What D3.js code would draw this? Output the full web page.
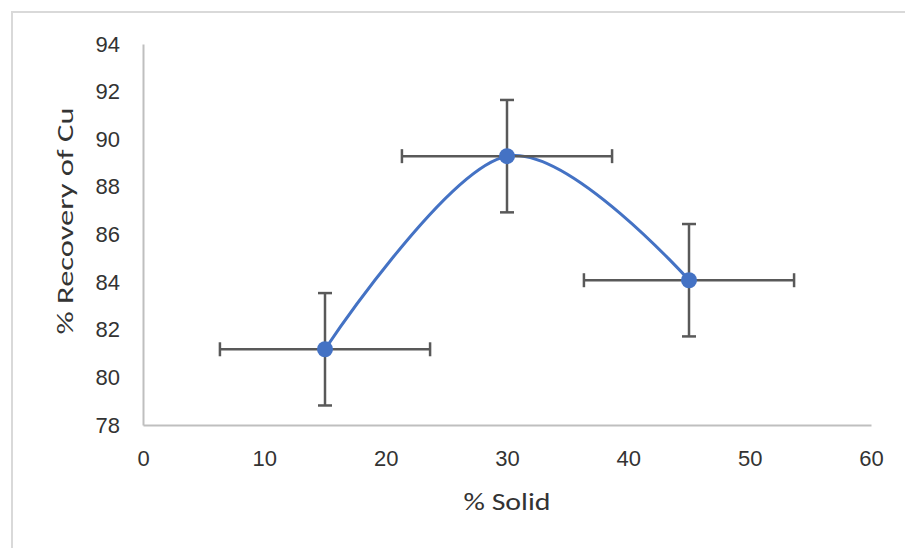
<!DOCTYPE html>
<html>
<head>
<meta charset="utf-8">
<script src="https://cdn.jsdelivr.net/npm/d3@7.9.0/dist/d3.min.js"></script>
<style>
  html, body { margin: 0; padding: 0; background: #fff; }
  svg { display: block; font-family: Calibri, Carlito, Lato, "Open Sans", sans-serif; }
</style>
</head>
<body>
<svg id="chart" width="905" height="548"></svg>
<script>
/* --- Data --- */
const solid = [15, 30, 45];             // % Solid
const recovery = [81.18, 89.29, 84.08]; // % Recovery of Cu
const xErr = [8.66, 8.66, 8.66];
const yErr = [2.36, 2.36, 2.36];
const xTicks = [0, 10, 20, 30, 40, 50, 60];
const yTicks = [78, 80, 82, 84, 86, 88, 90, 92, 94];

/* --- Layout --- */
const svg = d3.select('#chart');
const plot = { left: 143, right: 871, top: 44, bottom: 425 };

const x = d3.scaleLinear().domain([0, 60]).range([plot.left, plot.right]);
const y = d3.scaleLinear().domain([78, 94]).range([plot.bottom, plot.top]);

// outer frame (runs off the right/bottom edge like the source image)
svg.append('rect')
  .attr('x', 12).attr('y', 12)
  .attr('width', 905).attr('height', 548)
  .attr('fill', 'none')
  .attr('stroke', '#d9d9d9')
  .attr('stroke-width', 2);

/* --- Axes --- */
const axisColor = '#bfbfbf';
const labelColor = '#333333';

const xAxis = svg.append('g')
  .attr('transform', `translate(0,${plot.bottom})`)
  .call(d3.axisBottom(x).tickValues(xTicks).tickSize(0).tickPadding(25));
xAxis.select('.domain').attr('stroke', axisColor).attr('stroke-width', 2);
xAxis.selectAll('text').attr('fill', labelColor).style('font-size', '22px');

const yAxis = svg.append('g')
  .attr('transform', `translate(${plot.left},0)`)
  .call(d3.axisLeft(y).tickValues(yTicks).tickSize(0).tickPadding(23));
yAxis.select('.domain').attr('stroke', axisColor).attr('stroke-width', 2);
yAxis.selectAll('text').attr('fill', labelColor).style('font-size', '22px');

// axis titles: the source stretches them, so scale glyphs to the same length
const xTitle = svg.append('text')
  .attr('text-anchor', 'middle')
  .attr('fill', labelColor)
  .style('font-size', '24px')
  .text('% Solid');
const xs = 87 / xTitle.node().getComputedTextLength();
xTitle.attr('transform', `translate(${(plot.left + plot.right) / 2},510) scale(${xs},1)`);

const yTitle = svg.append('text')
  .attr('text-anchor', 'middle')
  .attr('fill', labelColor)
  .style('font-size', '23px')
  .text('% Recovery of Cu');
const ys = 227 / yTitle.node().getComputedTextLength();
yTitle.attr('transform', `translate(73,221) scale(1,${ys}) rotate(-90)`);

/* --- Smoothed series line --- */
const points = solid.map((s, i) => [x(s), y(recovery[i])]);
svg.append('path')
  .attr('d', d3.line().curve(d3.curveCardinal.tension(0))(points))
  .attr('fill', 'none')
  .attr('stroke', '#4472c4')
  .attr('stroke-width', 3);

/* --- Error bars --- */
const errColor = '#595959';
const cap = 7;
const bars = svg.append('g')
  .attr('stroke', errColor)
  .attr('stroke-width', 2.5);

solid.forEach((s, i) => {
  const cx = x(s), cy = y(recovery[i]);
  const x0 = x(s - xErr[i]), x1 = x(s + xErr[i]);
  const y0 = y(recovery[i] - yErr[i]), y1 = y(recovery[i] + yErr[i]);
  bars.append('line').attr('x1', x0).attr('x2', x1).attr('y1', cy).attr('y2', cy);
  bars.append('line').attr('x1', x0).attr('x2', x0).attr('y1', cy - cap).attr('y2', cy + cap);
  bars.append('line').attr('x1', x1).attr('x2', x1).attr('y1', cy - cap).attr('y2', cy + cap);
  bars.append('line').attr('x1', cx).attr('x2', cx).attr('y1', y0).attr('y2', y1);
  bars.append('line').attr('x1', cx - cap).attr('x2', cx + cap).attr('y1', y0).attr('y2', y0);
  bars.append('line').attr('x1', cx - cap).attr('x2', cx + cap).attr('y1', y1).attr('y2', y1);
});

/* --- Markers --- */
svg.selectAll('circle.pt')
  .data(points)
  .enter()
  .append('circle')
  .attr('class', 'pt')
  .attr('cx', d => d[0])
  .attr('cy', d => d[1])
  .attr('r', 8)
  .attr('fill', '#4472c4');
</script>
</body>
</html>
